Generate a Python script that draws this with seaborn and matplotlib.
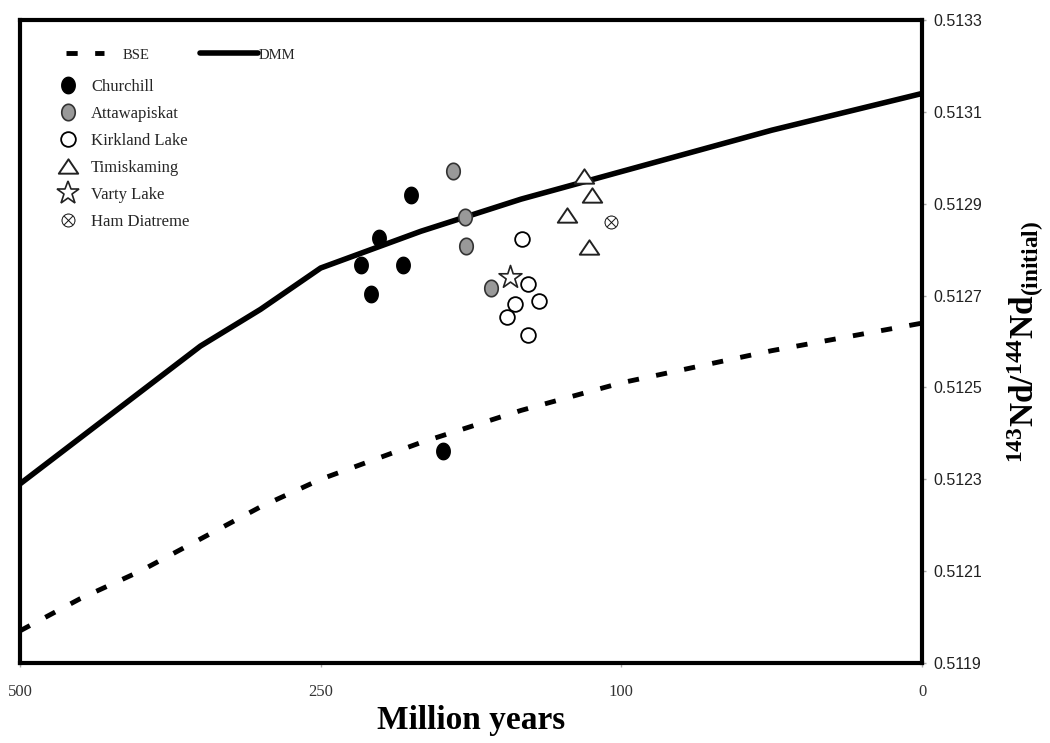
import numpy as np
import pandas as pd
import matplotlib
matplotlib.use("Agg")
import matplotlib.pyplot as plt
import seaborn as sns
from matplotlib.lines import Line2D
from matplotlib.path import Path

# ---------------- data ----------------
curve_age = [500, 450, 400, 350, 300, 250, 200, 150, 100, 50, 0]
dmm_nd = [0.51229, 0.51239, 0.51249, 0.51259, 0.51267, 0.51276,
          0.51284, 0.51291, 0.51297, 0.51306, 0.51314]
bse_nd = [0.51197, 0.51204, 0.51210, 0.51217, 0.51224, 0.51230,
          0.51238, 0.51245, 0.51251, 0.51258, 0.51264]

churchill_age = [205, 221, 230, 209, 225, 189]
churchill_nd = [0.51292, 0.512825, 0.512767, 0.512767, 0.512703, 0.512362]
attawapiskat_age = [184, 178, 177.5, 165]
attawapiskat_nd = [0.512971, 0.512872, 0.512809, 0.512717]
kirkland_age = [149.4, 146.4, 153.1, 140.9, 157.2, 146.7]
kirkland_nd = [0.512823, 0.512725, 0.512682, 0.512688, 0.512654, 0.512614]
timiskaming_age = [118.6, 114.5, 127.0, 116.0]
timiskaming_nd = [0.51296, 0.512919, 0.512875, 0.512806]
varty_age = [155.5]
varty_nd = [0.51274]
ham_age = [105.3]
ham_nd = [0.51286]

group_names = ["Churchill", "Attawapiskat", "Kirkland Lake",
               "Timiskaming", "Varty Lake", "Ham Diatreme"]
x_tick_ages = [500, 250, 100, 0]
y_ticks = [0.5119, 0.5121, 0.5123, 0.5125, 0.5127, 0.5129, 0.5131, 0.5133]

# ---------------- styling ----------------
sns.set_theme(style="white")
plt.rcParams['font.family'] = ['Liberation Serif', 'DejaVu Serif']
plt.rcParams['mathtext.fontset'] = 'custom'
plt.rcParams['mathtext.rm'] = 'Liberation Serif:bold'
plt.rcParams['mathtext.it'] = 'Liberation Serif:bold'
plt.rcParams['mathtext.bf'] = 'Liberation Serif:bold'

t = np.linspace(0, 2 * np.pi, 64)
ellipse = Path(np.column_stack([0.82 * np.cos(t), np.sin(t)]), closed=True)
triangle = Path([(0, 0.74), (-1, -0.74), (1, -0.74), (0, 0.74)], closed=True)

styles = {
    "Churchill":     dict(marker=ellipse, fc="black", ec="black", s=140, lw=1.0),
    "Attawapiskat":  dict(marker=ellipse, fc="#999999", ec="#333333", s=140, lw=1.2),
    "Kirkland Lake": dict(marker="o", fc="white", ec="black", s=112, lw=1.3),
    "Timiskaming":   dict(marker=triangle, fc="white", ec="#222222", s=195, lw=1.4),
    "Varty Lake":    dict(marker="*", fc="white", ec="#222222", s=300, lw=1.2),
    "Ham Diatreme":  dict(marker=r"$\otimes$", fc="black", ec="black", s=95, lw=0.2),
}
group_data = {
    "Churchill": (churchill_age, churchill_nd),
    "Attawapiskat": (attawapiskat_age, attawapiskat_nd),
    "Kirkland Lake": (kirkland_age, kirkland_nd),
    "Timiskaming": (timiskaming_age, timiskaming_nd),
    "Varty Lake": (varty_age, varty_nd),
    "Ham Diatreme": (ham_age, ham_nd),
}

fig = plt.figure(figsize=(10.5, 7.43), dpi=100)
ax = fig.add_axes([20 / 1050, 1 - 663 / 743, 902 / 1050, 643 / 743])

bse_dash = (0, (2.3, 3.6))
sns.lineplot(x=curve_age, y=dmm_nd, ax=ax, color="black", lw=4.0,
             sort=False, estimator=None, zorder=2)
sns.lineplot(x=curve_age, y=bse_nd, ax=ax, color="black", lw=3.5,
             linestyle=bse_dash, sort=False, estimator=None, zorder=2)

for name in group_names:
    st = styles[name]
    xa, ya = group_data[name]
    sns.scatterplot(x=xa, y=ya, ax=ax, marker=st["marker"], s=st["s"],
                    color=st["fc"], edgecolor=st["ec"], linewidth=st["lw"],
                    zorder=3, legend=False)

# piecewise axis: 500, 250, 100, 0 equally spaced
def fwd(a):
    return np.interp(a, [0, 100, 250, 500], [0, 1, 2, 3])

def inv(p):
    return np.interp(p, [0, 1, 2, 3], [0, 100, 250, 500])

ax.set_xscale("function", functions=(fwd, inv))
ax.set_xlim(500, 0)
ax.set_ylim(0.5119, 0.5133)
ax.set_xticks(x_tick_ages)
ax.set_xticklabels([str(v) for v in x_tick_ages], fontsize=12,
                   color="#333333", family="Liberation Serif")
ax.minorticks_off()
ax.yaxis.tick_right()
ax.yaxis.set_label_position("right")
ax.set_yticks(y_ticks)
ax.set_yticklabels([f"{v:.4f}" for v in y_ticks], fontsize=11.5,
                   color="#222222", family="Liberation Sans")
ax.tick_params(axis="x", which="both", direction="out", length=3,
               width=1, color="#aaaaaa", pad=12, bottom=True)
ax.tick_params(axis="y", which="both", direction="out", length=3,
               width=1, color="#aaaaaa", pad=5, right=True, left=False)

for sp in ax.spines.values():
    sp.set_visible(True)
    sp.set_color("black")
    sp.set_linewidth(3.0)

ax.set_xlabel("Million years", fontsize=24, fontweight="bold",
              family="Liberation Serif", labelpad=4, color="black")
ax.set_ylabel(r"$^{143}$Nd/$^{144}$Nd$_{(initial)}$", fontsize=24,
              fontweight="bold", family="Liberation Serif",
              labelpad=17, color="black")
ax.grid(False)

# ---------------- legends ----------------
def axx(px):
    return (px - 20) / 902

def axy(py):
    return (663 - py) / 643

h_bse = Line2D([], [], color="black", lw=3.5, linestyle=bse_dash)
leg1 = ax.legend([h_bse], ["BSE"], loc="center left",
                 bbox_to_anchor=(axx(66), axy(55)), frameon=False,
                 handlelength=2.6, handletextpad=1.3, borderpad=0,
                 borderaxespad=0, prop={"family": "Liberation Serif", "size": 10.5})
ax.add_artist(leg1)
h_dmm = Line2D([], [], color="black", lw=4.0)
leg2 = ax.legend([h_dmm], ["DMM"], loc="center left",
                 bbox_to_anchor=(axx(200), axy(55)), frameon=False,
                 handlelength=4.0, handletextpad=0.0, borderpad=0,
                 borderaxespad=0, prop={"family": "Liberation Serif", "size": 10.5})
ax.add_artist(leg2)

marker_handles = []
for name in group_names:
    st = styles[name]
    marker_handles.append(Line2D([], [], linestyle="none", marker=st["marker"],
                                 markersize=np.sqrt(st["s"]),
                                 markerfacecolor=st["fc"],
                                 markeredgecolor=st["ec"],
                                 markeredgewidth=st["lw"]))
leg3 = ax.legend(marker_handles, group_names, loc="upper left",
                 bbox_to_anchor=(axx(61), axy(79)), frameon=False,
                 handlelength=0.8, handletextpad=1.0, borderpad=0,
                 borderaxespad=0, labelspacing=0.66,
                 prop={"family": "Liberation Serif", "size": 12})

fig.savefig("out.png", dpi=100)
